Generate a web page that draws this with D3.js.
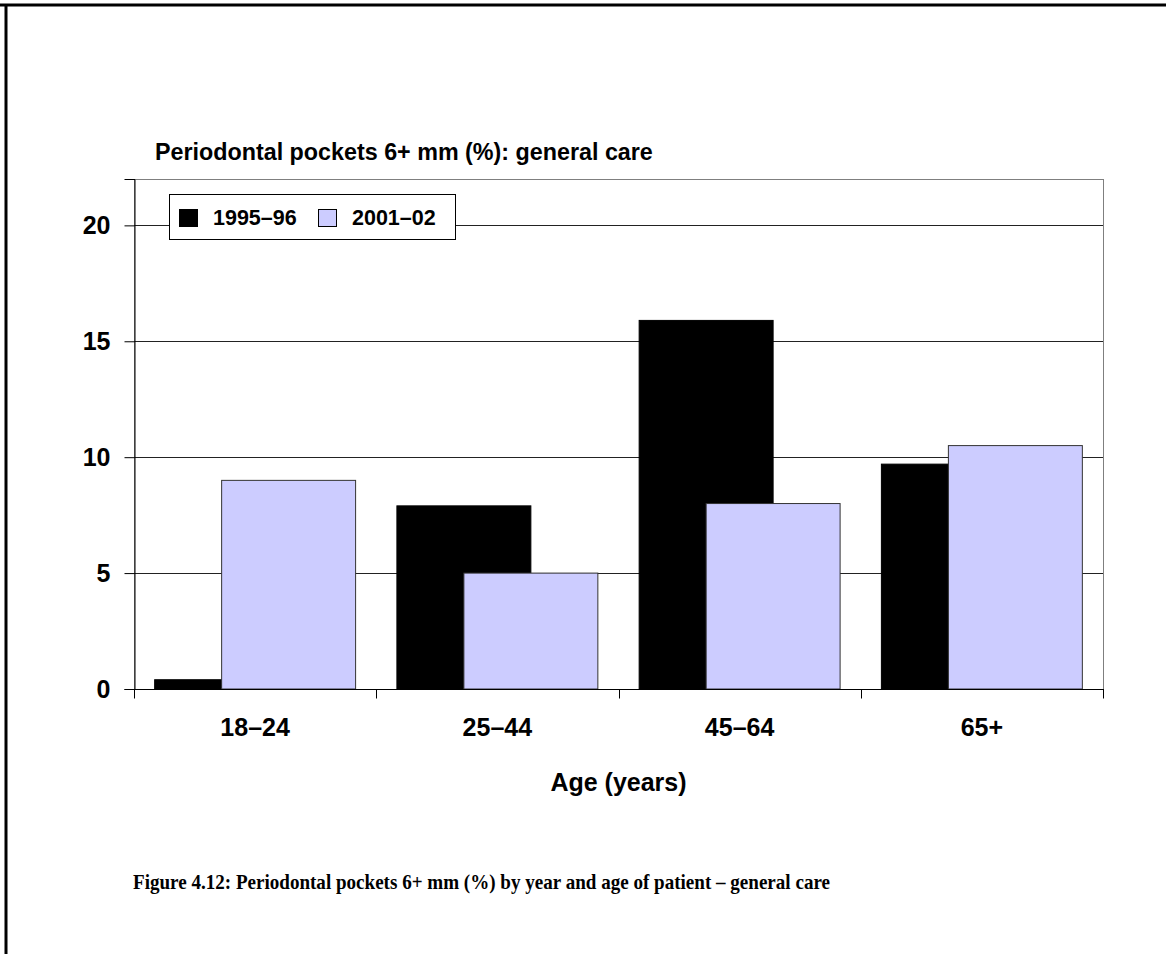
<!DOCTYPE html>
<html>
<head>
<meta charset="utf-8">
<script src="https://cdn.jsdelivr.net/npm/d3@7"></script>
<style>
  html, body { margin: 0; padding: 0; background: #fff; }
  svg { display: block; }
</style>
</head>
<body>
<svg id="chart" width="1166" height="954"></svg>
<script>
// Age groups and the share of patients with 6+ mm pockets in each survey
const categories = ["18–24", "25–44", "45–64", "65+"];
const series = ["1995–96", "2001–02"];
const values1995 = [0.4, 7.9, 15.9, 9.7];
const values2001 = [9.0, 5.0, 8.0, 10.5];
const yTicks = [0, 5, 10, 15, 20];
const colors = ["#000000", "#CCCCFF"];

const svg = d3.select("#chart");
const plot = { left: 134, right: 1103, top: 179, bottom: 689 };
const sans = "'Liberation Sans', Arial, sans-serif";

// Page frame (top and left rules)
svg.append("line").attr("x1", 0).attr("x2", 1166).attr("y1", 5).attr("y2", 5)
  .attr("stroke", "#000").attr("stroke-width", 3);
svg.append("line").attr("x1", 6).attr("x2", 6).attr("y1", 4).attr("y2", 954)
  .attr("stroke", "#000").attr("stroke-width", 3);

const x = d3.scaleBand().domain(categories).range([plot.left, plot.right]).padding(0);
const y = d3.scaleLinear().domain([0, 22]).range([plot.bottom, plot.top]);

// Plot frame
svg.append("rect")
  .attr("x", plot.left + 0.5).attr("y", plot.top + 0.5)
  .attr("width", plot.right - plot.left).attr("height", plot.bottom - plot.top)
  .attr("fill", "none").attr("stroke", "#7f7f7f").attr("stroke-width", 1);

// Horizontal gridlines
svg.append("g").selectAll("line").data(yTicks.filter(d => d > 0)).join("line")
  .attr("x1", plot.left).attr("x2", plot.right)
  .attr("y1", d => Math.round(y(d)) + 0.5).attr("y2", d => Math.round(y(d)) + 0.5)
  .attr("stroke", "#222").attr("stroke-width", 1);

// Bars: the second series overlaps the first by half a bar
const band = x.bandwidth();
const barW = band * 0.553;
const offset = (band - 1.5 * barW) / 2;
const rows = categories.map((c, i) => ({ c, v: [values1995[i], values2001[i]] }));

const bars = svg.append("g");
[0, 1].forEach(s => {
  bars.selectAll(".s" + s).data(rows).join("rect")
    .attr("class", "s" + s)
    .attr("x", d => x(d.c) + offset + s * barW * 0.5)
    .attr("y", d => y(d.v[s]))
    .attr("width", barW)
    .attr("height", d => y(0) - y(d.v[s]))
    .attr("fill", colors[s])
    .attr("stroke", s === 0 ? "#000" : "#333")
    .attr("stroke-width", 1);
});

// Y axis
const yAxis = svg.append("g").attr("transform", `translate(${plot.left + 0.5},0)`)
  .call(d3.axisLeft(y).tickValues(yTicks).tickSize(10).tickPadding(14).tickFormat(d3.format("d")));
yAxis.select(".domain").attr("stroke", "#000");
yAxis.selectAll(".tick line").attr("stroke", "#000");
yAxis.selectAll("text").attr("font-family", sans).attr("font-size", 25)
  .attr("font-weight", "bold").attr("fill", "#000");

// X axis: tick marks at category boundaries, labels centred in each band
const xg = svg.append("g").attr("transform", `translate(0,${plot.bottom + 0.5})`);
xg.append("line").attr("x1", plot.left).attr("x2", plot.right + 1).attr("stroke", "#000");
const bounds = categories.map(c => x(c)).concat([plot.right]);
xg.selectAll(".bt").data(bounds).join("line").attr("class", "bt")
  .attr("x1", d => Math.round(d) + 0.5).attr("x2", d => Math.round(d) + 0.5)
  .attr("y1", 0).attr("y2", 9).attr("stroke", "#000");
xg.selectAll("text").data(categories).join("text")
  .attr("x", d => x(d) + band / 2).attr("y", 46)
  .attr("text-anchor", "middle")
  .attr("font-family", sans).attr("font-size", 25).attr("font-weight", "bold")
  .text(d => d);

// Axis title
svg.append("text").attr("x", (plot.left + plot.right) / 2).attr("y", 791)
  .attr("text-anchor", "middle").attr("font-family", sans).attr("font-size", 25)
  .attr("font-weight", "bold").text("Age (years)");

// Chart title
svg.append("text").attr("x", 155).attr("y", 160)
  .attr("font-family", sans).attr("font-size", 23.3).attr("font-weight", "bold")
  .text("Periodontal pockets 6+ mm (%): general care");

// Legend
const lg = svg.append("g");
lg.append("rect").attr("x", 169.5).attr("y", 194.5).attr("width", 286).attr("height", 45)
  .attr("fill", "#fff").attr("stroke", "#000");
const legendX = [179, 318];
series.forEach((s, i) => {
  lg.append("rect").attr("x", legendX[i] + 0.5).attr("y", 209.5).attr("width", 18).attr("height", 17)
    .attr("fill", colors[i]).attr("stroke", "#000");
  lg.append("text").attr("x", legendX[i] + 34).attr("y", 225)
    .attr("font-family", sans).attr("font-size", 21.5).attr("font-weight", "bold").text(s);
});

// Figure caption
svg.append("text").attr("x", 133).attr("y", 889)
  .attr("font-family", "'Liberation Serif', 'DejaVu Serif', serif").attr("font-size", 21)
  .attr("font-weight", "bold")
  .attr("textLength", 697).attr("lengthAdjust", "spacingAndGlyphs")
  .text("Figure 4.12: Periodontal pockets 6+ mm (%) by year and age of patient – general care");
</script>
</body>
</html>
